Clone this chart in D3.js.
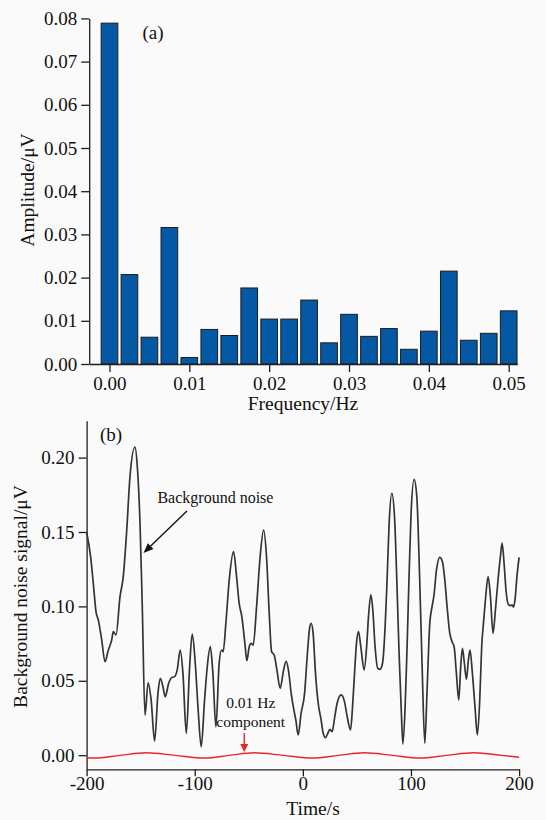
<!DOCTYPE html>
<html>
<head>
<meta charset="utf-8">
<script src="https://cdn.jsdelivr.net/npm/d3@7"></script>
<style>
  html, body { margin: 0; padding: 0; background: #fafafa; }
  svg { display: block; font-family: "Liberation Serif", "Times New Roman", serif; }
  .axis path, .axis line { stroke: #1e1e1e; stroke-width: 1.3; }
  .axis text { fill: #111; font-size: 19px; font-family: "Liberation Serif", "Times New Roman", serif; }
</style>
</head>
<body>
<svg id="fig" width="546" height="820"></svg>
<script>
// ---- (a) amplitude spectrum ----
const freqs = [0.0000, 0.0025, 0.0050, 0.0075, 0.0100, 0.0125, 0.0150, 0.0175, 0.0200, 0.0225, 0.0250,
               0.0275, 0.0300, 0.0325, 0.0350, 0.0375, 0.0400, 0.0425, 0.0450, 0.0475, 0.0500];
const amps = [0.0789, 0.0207, 0.0062, 0.0316, 0.0015, 0.0080, 0.0066, 0.0176, 0.0104, 0.0104, 0.0148,
              0.0049, 0.0115, 0.0064, 0.0082, 0.0034, 0.0076, 0.0215, 0.0055, 0.0071, 0.0123];
const freqTicks = [0, 0.01, 0.02, 0.03, 0.04, 0.05];
const freqTickLabels = ["0.00", "0.01", "0.02", "0.03", "0.04", "0.05"];
const ampTicks = [0, 0.01, 0.02, 0.03, 0.04, 0.05, 0.06, 0.07, 0.08];
const ampTickLabels = ["0.00", "0.01", "0.02", "0.03", "0.04", "0.05", "0.06", "0.07", "0.08"];

// ---- (b) background noise in the time domain ----
const noiseTime = [-200, -196.2, -193.8, -191.3, -189.2, -186.0, -183.0, -179.9, -176.8, -175.3, -172.8,
  -169.1, -166.1, -162.9, -159.9, -155.3, -153.1, -150.6, -148.5, -146.0, -143.1, -140.3, -137.1,
  -134.0, -131.9, -129.4, -127.3, -124.1, -121.1, -118.6, -116.2, -113.4, -110.9, -107.8, -104.7,
  -102.3, -99.5, -97.0, -94.0, -90.9, -88.4, -85.6, -83.2, -80.4, -77.4, -75.2, -73.7, -71.2, -68.1,
  -64.1, -61.3, -58.9, -56.4, -53.6, -51.8, -49.6, -47.8, -45.9, -42.8, -39.5, -36.3, -33.6, -31.1,
  -28.9, -26.5, -24.0, -21.0, -17.8, -15.4, -12.9, -10.8, -8.3, -6.5, -4.3, -1.6, 1.6, 4.0, 6.2, 7.7,
  9.5, 11.7, 14.2, 16.9, 18.8, 21.0, 23.1, 25.0, 27.1, 29.3, 31.7, 35.4, 38.5, 41.0, 44.1, 46.0, 47.8,
  49.6, 51.5, 53.6, 56.7, 59.2, 60.7, 62.9, 64.7, 66.8, 69.3, 71.4, 73.7, 76.1, 77.9, 79.8, 82.3, 84.8,
  86.9, 89.0, 90.9, 92.5, 94.6, 96.4, 98.3, 100.1, 102.9, 105.4, 107.9, 110.3, 112.8, 114.9, 117.4,
  119.5, 121.1, 123.6, 126.6, 129.1, 131.3, 133.4, 135.9, 138.0, 139.9, 142.0, 144.2, 146.0, 147.6,
  149.4, 151.3, 153.1, 154.6, 156.8, 159.2, 161.4, 163.6, 165.4, 167.3, 169.1, 171.3, 173.5, 175.9,
  178.1, 180.5, 182.7, 184.3, 186.2, 188.0, 190.0, 192.0, 193.5, 194.8, 196.3, 198.0, 200.0];
const noiseValue = [0.150, 0.133, 0.1155, 0.0964, 0.0909, 0.0774, 0.0628, 0.0707, 0.0774, 0.083, 0.0808,
  0.1065, 0.120, 0.151, 0.187, 0.207, 0.194, 0.156, 0.0998, 0.027, 0.0487, 0.037, 0.0095,
  0.0416, 0.0517, 0.046, 0.0393, 0.0483, 0.0523, 0.0528, 0.0573, 0.0707, 0.055, 0.0147, 0.0595,
  0.0813, 0.0618, 0.0326, 0.0057, 0.0371, 0.0595, 0.0729, 0.055, 0.019, 0.0618, 0.0707, 0.0696, 0.0886, 0.1177,
  0.1368, 0.120, 0.102, 0.093, 0.0752, 0.0635, 0.0729, 0.0752, 0.074, 0.0998, 0.1334, 0.1513, 0.1334, 0.0954,
  0.0696, 0.0673, 0.0573, 0.045, 0.0573, 0.063, 0.055, 0.0416, 0.0304, 0.0237, 0.0136, 0.0282, 0.0416, 0.0662, 0.0853, 0.0886,
  0.0819, 0.055, 0.0349, 0.0237, 0.0147, 0.0118, 0.0147, 0.0174, 0.0158, 0.0248, 0.0349, 0.0405, 0.036, 0.0259, 0.017, 0.033, 0.055,
  0.0752, 0.083, 0.0729, 0.0573, 0.0752, 0.0931, 0.1077, 0.0976, 0.0729, 0.0584, 0.0577, 0.0618, 0.0864, 0.1177, 0.1558, 0.176, 0.160,
  0.1177, 0.0685, 0.0326, 0.0075, 0.0326, 0.0729, 0.1222, 0.1626, 0.1854, 0.1737, 0.1222, 0.060, 0.008, 0.0438, 0.0886,
  0.0998, 0.1065, 0.1245, 0.133, 0.130, 0.1177, 0.0998, 0.0819, 0.0763, 0.0729, 0.055, 0.0371, 0.0595, 0.0718,
  0.0618, 0.051, 0.064, 0.0707, 0.055, 0.0326, 0.0136, 0.0371, 0.0729, 0.0909, 0.1065, 0.120, 0.1065, 0.0819,
  0.0976, 0.1177, 0.1334, 0.1425, 0.128, 0.110, 0.1015, 0.1005, 0.101, 0.0995, 0.105, 0.120, 0.133];

// 0.01 Hz component: extrema and crossings
const compTime  = [-200, -193, -169, -145, -118, -91, -68, -45, -18, 9, 33, 57, 83, 108, 133, 158, 184, 200];
const compValue = [-0.0017, -0.0019, -0.0001, 0.0016, -0.0001, -0.0019, -0.0001, 0.0016, -0.0001, -0.0019,
                   -0.0001, 0.0016, -0.0001, -0.0019, -0.0001, 0.0016, -0.0001, -0.0014];

const timeTicks = [-200, -100, 0, 100, 200];
const timeTickLabels = ["-200", "-100", "0", "100", "200"];
const sigTicks = [0, 0.05, 0.10, 0.15, 0.20];
const sigTickLabels = ["0.00", "0.05", "0.10", "0.15", "0.20"];

const svg = d3.select("#fig");
svg.append("rect").attr("width", 546).attr("height", 820).attr("fill", "#fafafa");

// ================= panel (a) =================
const xA = d3.scaleLinear().domain([-0.00254, 0.05109]).range([89.2, 517.4]);
const yA = d3.scaleLinear().domain([0, 0.08]).range([364, 18.4]);
const step = xA(freqs[1]) - xA(freqs[0]);
const barW = step * 0.835;

svg.append("g").selectAll("rect").data(freqs).join("rect")
  .attr("x", (d) => xA(d) - barW / 2)
  .attr("y", (d, i) => yA(amps[i]))
  .attr("width", barW)
  .attr("height", (d, i) => yA(0) - yA(amps[i]))
  .attr("fill", "#0558a3")
  .attr("stroke", "#1c1c1c")
  .attr("stroke-width", 1);

svg.append("g").attr("class", "axis")
  .attr("transform", `translate(${xA.range()[0]},0)`)
  .call(d3.axisLeft(yA).tickValues(ampTicks).tickFormat((d, i) => ampTickLabels[i])
        .tickSize(8).tickSizeOuter(0).tickPadding(4));

svg.append("g").attr("class", "axis")
  .attr("transform", `translate(0,${yA(0)})`)
  .call(d3.axisBottom(xA).tickValues(freqTicks).tickFormat((d, i) => freqTickLabels[i])
        .tickSize(8).tickSizeOuter(0).tickPadding(5));

svg.append("text").attr("x", 303).attr("y", 410).attr("text-anchor", "middle")
  .attr("font-size", 19.5).attr("fill", "#111").text("Frequency/Hz");
svg.append("text").attr("transform", "translate(33.5,190) rotate(-90)").attr("text-anchor", "middle")
  .attr("font-size", 19.5).attr("fill", "#111").text("Amplitude/\u03bcV");
svg.append("text").attr("x", 142.4).attr("y", 38.5)
  .attr("font-size", 19).attr("fill", "#111").text("(a)");

// ================= panel (b) =================
const xB = d3.scaleLinear().domain([-200, 200]).range([86.6, 519.1]);
const yB = d3.scaleLinear().domain([-0.00948, 0.2248]).range([769.3, 420.7]);

svg.append("g").attr("class", "axis")
  .attr("transform", `translate(${xB.range()[0]},0)`)
  .call(d3.axisLeft(yB).tickValues(sigTicks).tickFormat((d, i) => sigTickLabels[i])
        .tickSize(8).tickSizeOuter(0).tickPadding(4));

svg.append("g").attr("class", "axis")
  .attr("transform", `translate(0,${yB.range()[0]})`)
  .call(d3.axisBottom(xB).tickValues(timeTicks).tickFormat((d, i) => timeTickLabels[i])
        .tickSize(7).tickSizeOuter(0).tickPadding(0));

svg.append("text").attr("x", 313).attr("y", 815).attr("text-anchor", "middle")
  .attr("font-size", 19.5).attr("fill", "#111").text("Time/s");
svg.append("text").attr("transform", "translate(27,596.5) rotate(-90)").attr("text-anchor", "middle")
  .attr("font-size", 19.5).attr("fill", "#111").text("Background noise signal/\u03bcV");
svg.append("text").attr("x", 100).attr("y", 441)
  .attr("font-size", 19).attr("fill", "#111").text("(b)");

const noise = noiseTime.map((t, i) => [t, noiseValue[i]]);
const comp = compTime.map((t, i) => [t, compValue[i]]);
const line = d3.line().x((d) => xB(d[0])).y((d) => yB(d[1])).curve(d3.curveMonotoneX);

svg.append("path").datum(noise).attr("d", line)
  .attr("fill", "none").attr("stroke", "#343434").attr("stroke-width", 1.7)
  .attr("stroke-linejoin", "round");
svg.append("path").datum(comp).attr("d", line)
  .attr("fill", "none").attr("stroke", "#e6262b").attr("stroke-width", 1.4);

// arrow helper: shaft plus filled head ending at the tip
function arrow(x1, y1, x2, y2, color, headLen, headHalf) {
  const ang = Math.atan2(y2 - y1, x2 - x1);
  const bx = x2 - headLen * Math.cos(ang), by = y2 - headLen * Math.sin(ang);
  svg.append("line").attr("x1", x1).attr("y1", y1).attr("x2", bx).attr("y2", by)
    .attr("stroke", color).attr("stroke-width", 1.4);
  const px = -Math.sin(ang) * headHalf, py = Math.cos(ang) * headHalf;
  svg.append("polygon")
    .attr("points", `${x2},${y2} ${bx + px},${by + py} ${bx - px},${by - py}`)
    .attr("fill", color);
}

// "Background noise" label and pointer
svg.append("text").attr("x", xB(-134.5)).attr("y", yB(0.1693))
  .attr("font-size", 16).attr("fill", "#111").text("Background noise");
arrow(xB(-107.2), yB(0.1641), xB(-147.4), yB(0.1359), "#111", 10, 4);

// "0.01 Hz component" label and pointer
svg.append("text").attr("x", xB(-48.2)).attr("y", yB(0.0315)).attr("text-anchor", "middle")
  .attr("font-size", 15.5).attr("fill", "#111").text("0.01 Hz");
svg.append("text").attr("x", xB(-48.2)).attr("y", yB(0.0188)).attr("text-anchor", "middle")
  .attr("font-size", 15.5).attr("fill", "#111").text("component");
arrow(xB(-54.2), yB(0.0149), xB(-54.2), yB(0.0022), "#e6262b", 8, 4);
</script>
</body>
</html>
